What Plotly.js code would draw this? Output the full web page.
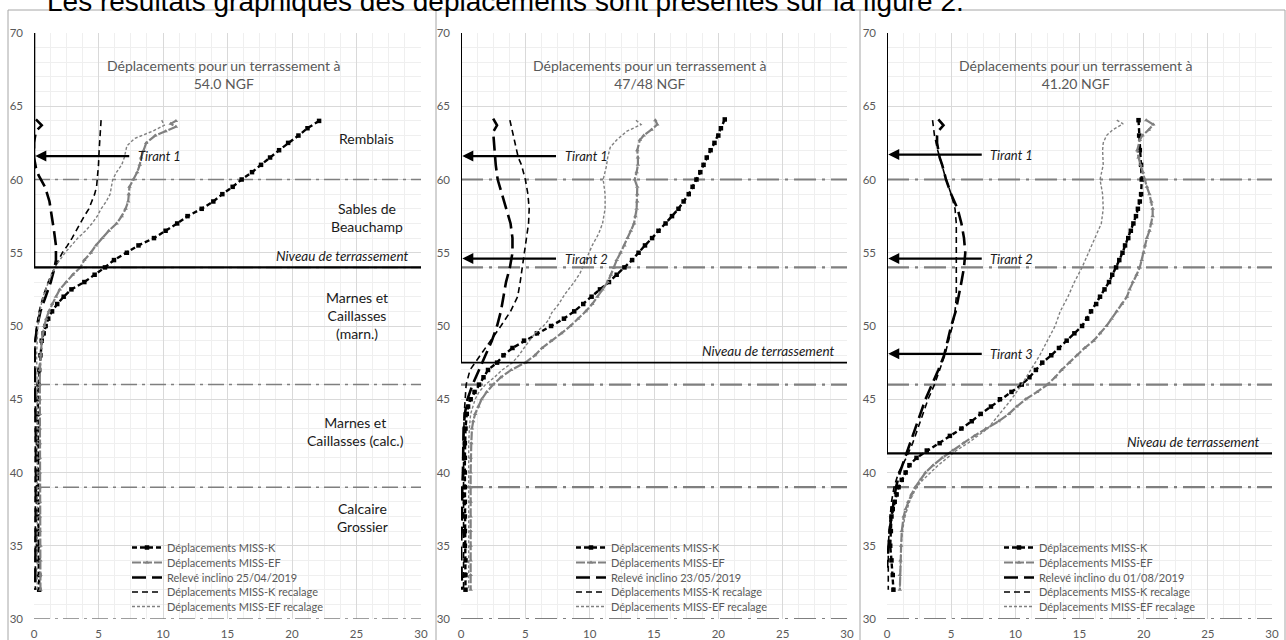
<!DOCTYPE html>
<html><head><meta charset="utf-8">
<script src="https://cdn.plot.ly/plotly-3.0.1.min.js"></script>
<style>html,body{margin:0;padding:0;background:#fff;}#chart{width:1286px;height:640px;}</style>
</head><body><div id="chart"></div>
<script>
// ---------------- DATA ----------------
const xTicks = [0, 5, 10, 15, 20, 25, 30];
const yTicks = [30, 35, 40, 45, 50, 55, 60, 65, 70];

const panelTitles = ["Déplacements pour un terrassement à<br>54.0 NGF",
                     "Déplacements pour un terrassement à<br>47/48 NGF",
                     "Déplacements pour un terrassement à<br>41.20 NGF"];
const seriesNames = ["Déplacements MISS-K", "Déplacements MISS-EF", "Relevé inclino",
                     "Déplacements MISS-K recalage", "Déplacements MISS-EF recalage"];
const inclinoNames = ["Relevé inclino 25/04/2019", "Relevé inclino 23/05/2019", "Relevé inclino du 01/08/2019"];
const terrassementLevels = [54.0, 47.5, 41.3];
const layerBoundaries = [[60, 54, 46, 39, 30], [60, 54, 46, 39, 30], [60, 54, 46, 39, 30]];
const tirantLevels = [[61.6], [61.6, 54.6], [61.7, 54.6, 48.1]];
const tirantLabels = [["Tirant 1"], ["Tirant 1", "Tirant 2"], ["Tirant 1", "Tirant 2", "Tirant 3"]];
const layerLabels = ["Remblais", "Sables de<br>Beauchamp", "Marnes et<br>Caillasses<br>(marn.)",
                     "Marnes et<br>Caillasses (calc.)", "Calcaire<br>Grossier"];
const layerLabelY = [62.8, 57.4, 50.7, 42.8, 36.9];
const layerLabelX = [25.8, 25.8, 25.0, 24.9, 25.5];

// Panel 1 : 54.0 NGF
const p1_K_y  = [64,63.5,63,62.5,62,61.5,61,60.5,60,59.5,59,58.5,58,57.5,57,56.5,56,55.5,55,54.5,54,53.5,53,52.5,52,51.5,51,50.5,50,49.5,49,48,47,46,45,44,43,42,41,40,39,38,37,36,35,34,33,32];
const p1_K_x  = [22.1,21.2,20.5,19.7,19.0,18.3,17.6,16.9,16.1,15.4,14.6,13.9,13.0,11.9,11.1,10.2,9.3,8.1,7.2,6.2,5.5,4.7,3.9,2.9,2.3,1.8,1.4,1.1,0.9,0.75,0.6,0.5,0.4,0.35,0.3,0.3,0.3,0.3,0.3,0.3,0.3,0.3,0.3,0.3,0.3,0.35,0.4,0.4];
const p1_EF_y = [64,63.8,63.6,63.3,63,62.5,62,61.5,61,60.5,60,59.5,59,58.5,58,57.5,57,56.5,56,55.5,55,54.5,54,53.5,53,52.5,52,51.5,51,50.5,50,49,48,47,46,45,44,43,42,41,40,39,38,37,36,35,34,33,32];
const p1_EF_x = [11.0,10.6,11.0,10.2,9.4,8.7,8.5,8.3,8.2,8.0,7.7,7.4,7.35,7.3,7.1,6.8,6.4,5.8,5.3,4.8,4.4,3.9,3.6,3.0,2.5,2.0,1.7,1.4,1.15,0.95,0.8,0.6,0.5,0.45,0.45,0.45,0.45,0.45,0.45,0.45,0.45,0.45,0.45,0.45,0.45,0.5,0.5,0.5,0.5];
const p1_IN_y = [64.1,63.7,63.3,62.5,61.5,60.8,60.3,59.5,58.5,57.5,56.5,55.5,54.5,54,53,52,51,50,49,48,46,44,42,40,38,36,34,32];
const p1_IN_x = [0.15,0.6,0.15,0.0,0.0,0.15,0.35,0.85,1.2,1.4,1.55,1.7,1.7,1.6,1.3,0.9,0.5,0.25,0.1,0.05,0.1,0.1,0.15,0.15,0.15,0.15,0.1,0.1];
const p1_KR_y = [64.05,63,62,61,60,59.5,59,58.5,58,57.5,57,56.5,56,55.5,55,54.5,54,53.5,53,52.5,52,51,50,49,48,46,44,42,40,38,36,34,32];
const p1_KR_x = [5.2,5.1,5.05,5.0,4.9,4.85,4.7,4.5,4.25,3.9,3.6,3.25,2.95,2.6,2.2,1.9,1.6,1.35,1.1,0.9,0.7,0.4,0.2,0.1,0.05,0.1,0.1,0.1,0.1,0.1,0.1,0.1,0.1];
const p1_ER_y = [64.05,63.7,63.3,62.8,62.3,61.5,61,60.5,60,59.5,59,58.5,58,57.5,57,56.5,56,55.5,55,54.5,54,53.5,53,52.5,52,51,50,49,48,46,44,42,40,38,36,34,32];
const p1_ER_x = [9.9,10.1,9.2,7.8,7.2,7.0,6.8,6.4,6.1,6.0,5.9,5.6,5.2,4.9,4.5,4.0,3.4,2.9,2.4,2.0,1.6,1.35,1.1,0.9,0.7,0.45,0.3,0.25,0.2,0.25,0.25,0.25,0.25,0.25,0.25,0.25,0.25];

// Panel 2 : 47/48 NGF
const p2_K_y  = [64.1,63.5,63,62.5,62,61.5,61,60.5,60,59.5,59,58.5,58,57.5,57,56.5,56,55.5,55,54.5,54,53.5,53,52.5,52,51.5,51,50.5,50,49.5,49,48.5,48,47.5,47,46.5,46,45.5,45,44.5,44,43,42,41,40,39,38,37,36,35,34,33,32];
const p2_K_x  = [20.5,20.2,20.0,19.7,19.4,19.1,18.85,18.6,18.3,18.0,17.7,17.3,16.9,16.4,15.9,15.35,14.85,14.3,13.8,13.3,12.7,12.1,11.5,10.8,10.15,9.5,8.8,8.0,7.0,5.9,4.9,4.0,3.3,2.8,2.1,1.75,1.4,1.05,0.75,0.55,0.45,0.35,0.3,0.3,0.3,0.3,0.3,0.3,0.3,0.3,0.35,0.35,0.35];
const p2_EF_y = [64.05,63.75,63.4,63,62.7,62,61.5,61,60.5,60,59.5,59,58.5,58,57.5,57,56.5,56,55.5,55,54.5,54,53.5,53,52.5,52,51.5,51,50.5,50,49.5,49,48.5,48,47.5,47,46.5,46,45.5,45,44.5,44,43.5,43,42,41,40,39,38,37,36,35,34,33,32];
const p2_EF_x = [15.1,15.25,14.8,14.2,13.9,13.7,13.75,13.75,13.65,13.5,13.7,13.7,13.7,13.65,13.55,13.45,13.2,12.95,12.7,12.4,12.1,11.9,11.65,11.4,11.0,10.6,10.2,9.7,9.1,8.5,7.8,7.0,6.3,5.75,5.0,3.9,3.1,2.5,2.0,1.6,1.35,1.1,0.95,0.85,0.8,0.75,0.75,0.75,0.75,0.75,0.75,0.75,0.75,0.75,0.75];
const p2_IN_y = [64.15,63.7,63.25,62.5,62,61,60,59,58,57,56,55,54,53,52,51,50,49,48,47,46,45,44,43,42,41,40,39,38,37,36,35,34,33,32];
const p2_IN_x = [2.5,2.8,2.5,2.55,2.6,2.7,2.85,3.2,3.55,3.85,4.0,4.0,3.8,3.5,3.3,3.1,2.8,2.4,1.9,1.4,0.9,0.5,0.3,0.2,0.2,0.15,0.15,0.1,0.1,0.1,0.05,0.0,0.0,0.05,0.1];
const p2_KR_y = [64.05,63,62,61.5,61,60,59,58,57,56,55,54,53,52,51,50,49,48,47,46,45,44,42,40,38,36,34,32];
const p2_KR_x = [3.8,4.05,4.3,4.45,4.7,5.0,5.2,5.3,5.25,5.1,4.95,4.8,4.6,4.4,3.85,3.1,2.3,1.5,0.7,0.4,0.3,0.25,0.2,0.2,0.2,0.2,0.2,0.2];
const p2_ER_y = [64.05,63.75,63.3,62.7,62.2,61.5,60.9,60,59,58,57,56.3,55.5,54.9,54,53.6,53,52.2,51.5,50.9,50.4,50,49.5,49,48.5,48,47.5,47,46.5,46,45.5,45,44.5,44,43,42,40,38,36,34,32];
const p2_ER_x = [13.6,14.0,12.9,12.1,11.6,11.4,11.3,11.05,11.2,11.2,11.0,10.7,10.2,9.9,9.5,9.25,8.8,8.1,7.6,7.05,6.8,6.4,5.75,5.3,4.9,4.5,4.0,3.2,2.6,1.9,1.4,1.1,0.9,0.75,0.65,0.6,0.6,0.6,0.6,0.6,0.6];

// Panel 3 : 41.20 NGF
const p3_K_y  = [64.05,63,62,61,60,59,58.5,58,57.5,57,56.5,56,55.5,55,54.5,54,53.5,53,52.5,52,51.5,51,50.5,50,49.5,49,48.5,48,47.5,47,46.5,46,45.5,45,44.5,44,43.5,43,42.5,42,41.5,41,40.5,40,39.5,39,38.5,38,37.5,37,36,35,34,33,32];
const p3_K_x  = [19.6,19.65,19.7,19.8,19.85,19.8,19.7,19.55,19.4,19.2,19.0,18.8,18.55,18.35,18.1,17.85,17.55,17.3,16.95,16.6,16.3,15.9,15.6,15.2,14.6,14.0,13.4,12.8,12.1,11.6,11.1,10.5,9.7,8.8,8.1,7.3,6.6,5.8,4.9,4.1,3.1,2.3,1.75,1.45,1.15,0.9,0.75,0.6,0.45,0.35,0.3,0.25,0.35,0.45,0.5];
const p3_EF_y = [64.05,63.75,63.4,63,62.7,62,61.5,61,60.5,60,59.5,59,58.5,58,57.5,57,56.5,56,55.5,55,54.5,54,53.5,53,52.5,52,51.5,51,50.5,50,49.5,49,48.5,48,47.5,47,46.5,46,45.5,45,44.5,44,43.5,43,42.5,42,41.5,41,40.5,40,39.5,39,38.5,38,37.5,37,36,35,34,33,32];
const p3_EF_x = [20.2,20.75,20.4,19.9,19.7,19.5,19.6,19.75,19.95,20.1,20.25,20.45,20.6,20.7,20.7,20.6,20.45,20.25,20.1,20.0,19.85,19.7,19.45,19.15,18.9,18.7,18.3,17.9,17.5,17.1,16.6,16.1,15.4,14.8,14.2,13.6,13.1,12.5,11.7,10.8,10.1,9.5,8.7,7.7,6.8,5.95,5.1,4.3,3.6,3.0,2.6,2.2,1.9,1.65,1.45,1.3,1.15,1.1,1.05,1.0,1.0];
const p3_IN_y = [64.1,63.7,63.3,63,62.5,62,61.5,61,60.5,60,59,58,57,56,55,54,53,52,51,50,49,48,47,46,45,44,43,42,41,40,39,38,37,36,35,34,33.5];
const p3_IN_x = [4.0,4.4,4.0,3.9,3.9,4.0,4.1,4.3,4.45,4.6,5.0,5.5,5.8,6.0,6.1,6.0,5.8,5.6,5.35,5.0,4.75,4.45,4.0,3.5,3.0,2.6,2.2,1.8,1.4,1.0,0.7,0.5,0.35,0.2,0.1,0.0,0.0];
const p3_KR_y = [64.05,63.5,63,62,61,60,59,58,57,56,55,54,53,52,51,50,49,48,47,46,45,44,43,42,41,40,39,38,37,36,35,34,33,32];
const p3_KR_x = [3.55,3.6,3.7,3.95,4.25,4.6,5.0,5.3,5.4,5.4,5.4,5.45,5.45,5.4,5.3,5.1,4.8,4.5,4.1,3.7,3.2,2.8,2.4,2.0,1.5,0.9,0.55,0.35,0.25,0.15,0.1,0.1,0.1,0.1];
const p3_ER_y = [64.05,63.8,63.4,63,62.5,62,61,60,59,58,57,56,55,54,53,52,51,50,49,48,47,46,45,44,43,42,41.5,41,40.5,40,39.5,39,38.5,38,37,36,35,34,33,32];
const p3_ER_x = [17.9,18.4,17.6,17.1,16.85,16.8,16.85,16.6,16.8,16.85,16.7,16.2,15.65,15.2,14.6,14.1,13.5,13.1,12.5,11.9,11.2,10.5,9.7,8.8,7.85,6.3,5.4,4.7,4.0,3.4,2.8,2.3,2.0,1.75,1.4,1.2,1.1,1.05,1.0,1.0];

// ---------------- BUILD ----------------
const W = 1286, H = 640;
const fx = p => p / W, fy = p => 1 - p / H;
const xDomains = [[34, 421], [461, 847], [887, 1272]];
const yDomain = [fy(619), fy(33)];
const FONT = "Lato, 'Open Sans', sans-serif";
const GREYTXT = "#595959";

const panels = [
  [p1_K_x, p1_K_y, p1_EF_x, p1_EF_y, p1_IN_x, p1_IN_y, p1_KR_x, p1_KR_y, p1_ER_x, p1_ER_y],
  [p2_K_x, p2_K_y, p2_EF_x, p2_EF_y, p2_IN_x, p2_IN_y, p2_KR_x, p2_KR_y, p2_ER_x, p2_ER_y],
  [p3_K_x, p3_K_y, p3_EF_x, p3_EF_y, p3_IN_x, p3_IN_y, p3_KR_x, p3_KR_y, p3_ER_x, p3_ER_y]
];
const styles = [
  {mode: "lines+markers", line: {color: "#000", width: 2.4, dash: "5px,3px"}, marker: {symbol: "square", size: 4.5, color: "#000"}},
  {mode: "lines+markers", line: {color: "#808080", width: 2.2, dash: "9px,2px"}, marker: {symbol: "triangle-up", size: 4, color: "#808080"}},
  {mode: "lines", line: {color: "#000", width: 2.6, dash: "14px,6px"}},
  {mode: "lines", line: {color: "#000", width: 1.6, dash: "6px,4px"}},
  {mode: "lines", line: {color: "#808080", width: 1.4, dash: "3px,2px"}}
];

const traces = [];
const layout = {
  width: W, height: H, margin: {l: 0, r: 0, t: 0, b: 0},
  paper_bgcolor: "#fff", plot_bgcolor: "rgba(0,0,0,0)",
  font: {family: FONT, color: GREYTXT}, showlegend: true,
  shapes: [], annotations: []
};
const legendLeft = [127, 571, 999];
const legendRowY = [548, 563, 578, 592.5, 607];
let legendCount = 0;

for (let p = 0; p < 3; p++) {
  const sfx = p === 0 ? "" : String(p + 1);
  const xa = "x" + sfx, ya = "y" + sfx;
  const d = panels[p];
  for (let s = 0; s < 5; s++) {
    legendCount++;
    const legendId = legendCount === 1 ? "legend" : "legend" + legendCount;
    const st = styles[s];
    const t = {
      type: "scatter", x: d[2 * s], y: d[2 * s + 1], xaxis: xa, yaxis: ya,
      name: s === 2 ? inclinoNames[p] : seriesNames[s], showlegend: true,
      mode: st.mode, line: st.line, legend: legendId, hoverinfo: "skip"
    };
    if (st.marker) t.marker = st.marker;
    traces.push(t);
    layout[legendId] = {
      visible: true,
      x: fx(legendLeft[p]), xanchor: "left", y: fy(legendRowY[s] - 15), yanchor: "top",
      bgcolor: "rgba(0,0,0,0)", borderwidth: 0,
      font: {family: FONT, size: 11, color: GREYTXT}
    };
  }
  const gridAxis = {
    showgrid: true, gridcolor: "#d9d9d9", gridwidth: 1, zeroline: false, showline: false,
    ticks: "", tickfont: {family: FONT, size: 11.5, color: GREYTXT}
  };
  layout["xaxis" + sfx] = Object.assign({}, gridAxis, {
    domain: [fx(xDomains[p][0]), fx(xDomains[p][1])], anchor: ya, range: [0, 30],
    tickmode: "array", tickvals: xTicks, ticklabelstandoff: 6,
    minor: {dtick: 1.25, tick0: 0, showgrid: true, gridcolor: "#efefef", gridwidth: 1}
  });
  layout["yaxis" + sfx] = Object.assign({}, gridAxis, {
    domain: yDomain, anchor: xa, range: [30, 70],
    tickmode: "array", tickvals: yTicks, ticklabelstandoff: 10,
    minor: {dtick: 1, tick0: 0, showgrid: true, gridcolor: "#efefef", gridwidth: 1}
  });

  // layer boundaries (dash-dot)
  layerBoundaries[p].forEach(v => {
    layout.shapes.push({type: "line", xref: xa, yref: ya, x0: 0, x1: 30, y0: v, y1: v, layer: "between",
      line: {color: "#7f7f7f", width: p === 0 ? 1.5 : 2.2, dash: p === 0 ? "16px,5px,3px,5px" : "22px,6px,3px,6px"}});
  });
  // wall + terrassement level
  const lw = p === 0 ? 2.6 : 2;
  layout.shapes.push({type: "line", xref: xa, yref: ya, x0: 0, x1: 0, y0: 70, y1: terrassementLevels[p], line: {color: "#000", width: lw}});
  layout.shapes.push({type: "line", xref: xa, yref: ya, x0: 0, x1: 30, y0: terrassementLevels[p], y1: terrassementLevels[p], line: {color: "#000", width: p === 1 ? 1.6 : 2.2}});
  // title
  layout.annotations.push({xref: xa, yref: ya, x: 14.7, y: 67.2, text: panelTitles[p], showarrow: false,
    xanchor: "center", yanchor: "middle", align: "center", font: {family: FONT, size: 14, color: GREYTXT}});
  // Niveau de terrassement
  layout.annotations.push({xref: xa, yref: ya, x: 29.2, y: terrassementLevels[p] + 0.1, text: "<i>Niveau de terrassement</i>",
    showarrow: false, xanchor: "right", yanchor: "bottom", font: {family: FONT, size: 13.5, color: "#1a1a1a"}});
  // tirants
  tirantLevels[p].forEach((lv, i) => {
    layout.annotations.push({xref: xa, yref: ya, x: 0.1, y: lv, ax: 7.5, ay: lv, axref: xa, ayref: ya, text: "",
      showarrow: true, arrowhead: 2, arrowsize: 1, arrowwidth: 2.2, arrowcolor: "#000"});
    layout.annotations.push({xref: xa, yref: ya, x: 7.9, y: lv, text: "<i>" + tirantLabels[p][i] + "</i>",
      showarrow: false, xanchor: "left", yanchor: "middle", font: {family: FONT, size: 13, color: "#1a1a1a"}});
  });
}
// soil layer names (first panel)
layerLabels.forEach((t, i) => {
  layout.annotations.push({xref: "x", yref: "y", x: layerLabelX[i], y: layerLabelY[i], text: t, showarrow: false,
    xanchor: "center", yanchor: "middle", align: "center", font: {family: FONT, size: 14, color: "#1a1a1a"}});
});
// page sentence cut at the top
layout.annotations.push({xref: "paper", yref: "paper", x: fx(45), y: fy(19), xanchor: "left", yanchor: "bottom",
  text: "Les résultats graphiques des déplacements sont présentés sur la figure 2.", showarrow: false,
  font: {family: "'Liberation Sans', Arial, sans-serif", size: 28, color: "#000"}});
// panel frames
[8, 436, 860, 1285].forEach(xp => layout.shapes.push({type: "line", xref: "paper", yref: "paper",
  x0: fx(xp), x1: fx(xp), y0: fy(10), y1: -0.05, line: {color: "#a6a6a6", width: 1}}));
layout.shapes.push({type: "line", xref: "paper", yref: "paper", x0: fx(8), x1: fx(1285), y0: fy(10), y1: fy(10),
  line: {color: "#a6a6a6", width: 1}});

Plotly.newPlot("chart", traces, layout, {staticPlot: true, displayModeBar: false});
</script></body></html>
